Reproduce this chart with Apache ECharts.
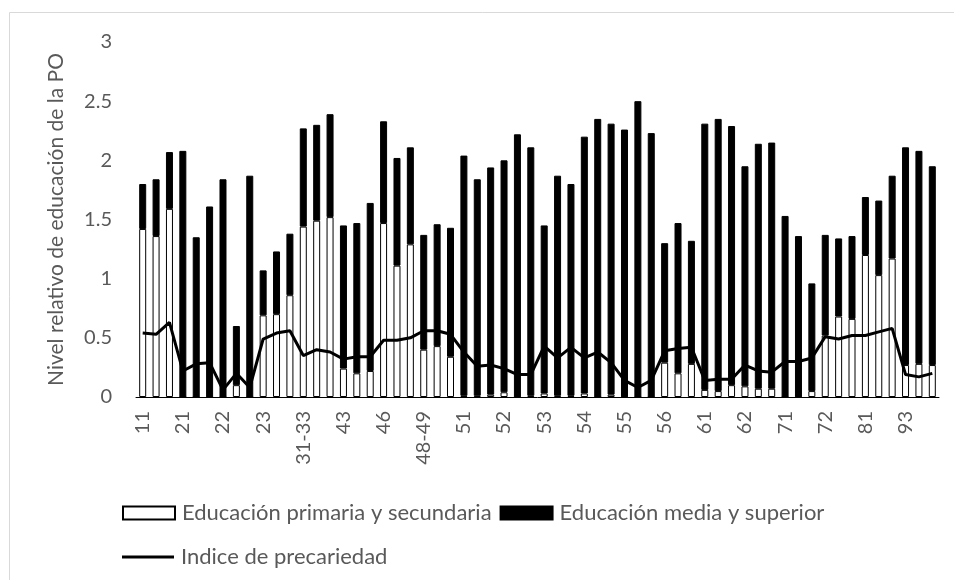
<!DOCTYPE html>
<html>
<head>
<meta charset="utf-8">
<script src="https://cdn.jsdelivr.net/npm/echarts@6/dist/echarts.min.js"></script>
<style>
  html, body { margin: 0; padding: 0; background: #fff; }
  #chart { width: 954px; height: 580px; }
</style>
</head>
<body>
<div id="chart"></div>
<script>
// categorias (solo cada tercera lleva etiqueta)
const labels = [
  '11', '', '', '21', '', '', '22', '', '', '23', '', '', '31-33', '', '', '43', '', '', '46', '', '',
  '48-49', '', '', '51', '', '', '52', '', '', '53', '', '', '54', '', '', '55', '', '', '56', '', '',
  '61', '', '', '62', '', '', '71', '', '', '72', '', '', '81', '', '', '93', '', ''
]

// Educación primaria y secundaria (parte blanca)
const primaria = [
  1.42, 1.36, 1.59, 0, 0, 0, 0, 0.10, 0, 0.69,
  0.70, 0.86, 1.44, 1.49, 1.52, 0.24, 0.20, 0.22, 1.47, 1.11,
  1.29, 0.40, 0.43, 0.34, 0.01, 0.01, 0.02, 0.04, 0, 0.01,
  0.03, 0.01, 0.01, 0.03, 0, 0.02, 0, 0, 0, 0.29,
  0.20, 0.28, 0.06, 0.05, 0.10, 0.09, 0.07, 0.07, 0, 0,
  0.05, 0.52, 0.68, 0.66, 1.20, 1.03, 1.17, 0.27, 0.28, 0.27
]

// Educación media y superior (parte negra, apilada)
const media = [
  0.38, 0.48, 0.48, 2.08, 1.35, 1.61, 1.84, 0.50, 1.87, 0.38,
  0.53, 0.52, 0.83, 0.81, 0.87, 1.21, 1.27, 1.42, 0.86, 0.91,
  0.82, 0.97, 1.03, 1.09, 2.03, 1.83, 1.92, 1.96, 2.22, 2.10,
  1.42, 1.86, 1.79, 2.17, 2.35, 2.29, 2.26, 2.50, 2.23, 1.01,
  1.27, 1.04, 2.25, 2.30, 2.19, 1.86, 2.07, 2.08, 1.53, 1.36,
  0.91, 0.85, 0.66, 0.70, 0.49, 0.63, 0.70, 1.84, 1.80, 1.68
]

// Indice de precariedad
const precariedad = [
  0.54, 0.53, 0.63, 0.22, 0.28, 0.29, 0.06, 0.20, 0.08, 0.49,
  0.54, 0.56, 0.35, 0.40, 0.38, 0.32, 0.34, 0.34, 0.48, 0.48,
  0.50, 0.56, 0.56, 0.53, 0.38, 0.26, 0.27, 0.24, 0.19, 0.19,
  0.43, 0.33, 0.42, 0.33, 0.38, 0.29, 0.14, 0.08, 0.14, 0.39,
  0.41, 0.42, 0.14, 0.15, 0.15, 0.27, 0.22, 0.21, 0.30, 0.30,
  0.33, 0.51, 0.49, 0.52, 0.52, 0.55, 0.58, 0.19, 0.17, 0.20
]

const FONT = 'Lato, "Open Sans", sans-serif'
const GREY = '#595959'

const chart = echarts.init(document.getElementById('chart'), null, { renderer: 'canvas' })

chart.setOption({
  animation: false,
  textStyle: { fontFamily: FONT },
  graphic: [
    { type: 'rect', shape: { x: 9.5, y: 12.5, width: 1000, height: 700 }, style: { fill: 'none', stroke: '#d9d9d9', lineWidth: 1 }, silent: true }
  ],
  grid: { left: 136, right: 15, top: 42, bottom: 183 },
  legend: [
    {
      left: 117, top: 497, orient: 'horizontal',
      itemWidth: 52, itemHeight: 13, itemGap: 8,
      textStyle: { fontSize: 22, color: GREY, fontFamily: FONT, padding: [0, 0, 0, 2] },
      data: [
        { name: 'Educación primaria y secundaria', icon: 'rect' },
        { name: 'Educación media y superior', icon: 'rect' }
      ]
    },
    {
      left: 117, top: 541,
      itemWidth: 52, itemHeight: 3,
      textStyle: { fontSize: 22, color: GREY, fontFamily: FONT, padding: [0, 0, 0, 2] },
      data: [{ name: 'Indice de precariedad', icon: 'rect', itemStyle: { color: '#000' } }]
    }
  ],
  xAxis: {
    type: 'category',
    data: labels,
    boundaryGap: true,
    axisLine: { lineStyle: { color: '#000', width: 1 } },
    axisTick: { interval: 0, length: 6, lineStyle: { color: '#000' } },
    axisLabel: { interval: 0, rotate: 90, margin: 14, fontSize: 20, color: GREY, fontFamily: FONT }
  },
  yAxis: {
    type: 'value',
    min: 0, max: 3, interval: 0.5,
    name: 'Nivel relativo de educación de la PO',
    nameLocation: 'middle',
    nameRotate: 90,
    nameGap: 69,
    nameMoveOverlap: false,
    nameTextStyle: { fontSize: 21, color: GREY, fontFamily: FONT },
    axisLine: { show: false },
    axisTick: { show: false },
    splitLine: { show: false },
    axisLabel: { fontSize: 20, color: GREY, margin: 24, fontFamily: FONT }
  },
  series: [
    {
      name: 'Educación primaria y secundaria',
      type: 'bar', stack: 'edu', barWidth: 7,
      data: primaria,
      itemStyle: { color: '#fff', borderColor: '#000', borderWidth: 1 }
    },
    {
      name: 'Educación media y superior',
      type: 'bar', stack: 'edu', barWidth: 7,
      data: media,
      itemStyle: { color: '#000', borderColor: '#000', borderWidth: 1 }
    },
    {
      name: 'Indice de precariedad',
      type: 'line',
      data: precariedad,
      symbol: 'none',
      z: 5,
      lineStyle: { color: '#000', width: 3 },
      itemStyle: { color: '#000' }
    }
  ]
})
</script>
</body>
</html>
